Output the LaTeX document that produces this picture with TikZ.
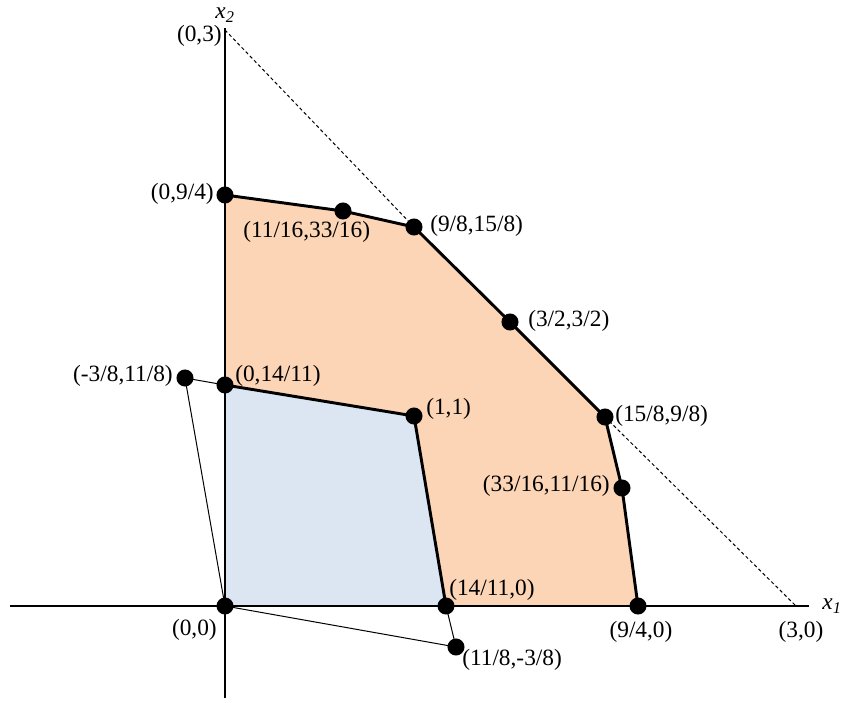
\documentclass[tikz,border=0pt]{standalone}
\usepackage{fontspec}
\setmainfont{Liberation Serif}
\usepackage{xcolor}
\usetikzlibrary{positioning}
\definecolor{feas}{HTML}{FBD5B5}
\definecolor{inner}{HTML}{DCE6F2}

\begin{document}
\begin{tikzpicture}[
  x=0.75pt, y=-0.75pt,
  font=\fontsize{17.5}{20}\selectfont,
  dot/.style={circle, fill=black, inner sep=0pt, minimum size=12.8pt},
  lab/.style={inner sep=0pt},
  ax/.style={line width=2.2pt},
  edge/.style={line width=2.2pt, line join=round},
  thin/.style={line width=0.75pt}
]
\useasboundingbox (0,0) rectangle (844,703);
% points of the picture (pixel grid)
\coordinate (o) at (225,606);
\coordinate (a) at (225,195);
\coordinate (b) at (343,211);
\coordinate (c) at (414,227);
\coordinate (d) at (510,322);
\coordinate (e) at (605,417);
\coordinate (f) at (622,488);
\coordinate (g) at (638,606);
\coordinate (h) at (446,606);
\coordinate (k) at (414,416);
\coordinate (m) at (225,385);
\coordinate (u) at (185,378);
\coordinate (v) at (456,647);
\coordinate (top) at (225,30);
\coordinate (rgt) at (796,606);
\coordinate (xl) at (10,606);
\coordinate (xr) at (809,606);
\coordinate (yt) at (225,28);
\coordinate (yb) at (225,698);

% bound x1+x2=3, only outside the region
\draw[thin, dash pattern=on 2.5pt off 2pt] (top) -- (c);
\draw[thin, dash pattern=on 2.5pt off 2pt] (e) -- (rgt);

% regions
\fill[feas] (a) -- (b) -- (c) -- (d) -- (e) -- (f) -- (g) -- (o) -- cycle;
\filldraw[fill=inner, draw=black!60, line width=0.5pt] (o) -- (h) -- (k) -- (m) -- cycle;

% thin lines
\draw[thin] (o) -- (u) -- (m);
\draw[thin] (o) -- (v) -- (h);

% axes
\draw[ax] (xl) -- (xr);
\draw[ax] (yb) -- (yt);

% boundaries
\draw[edge] (a) -- (b) -- (c) -- (d) -- (e) -- (f) -- (g);
\draw[edge] (h) -- (k) -- (m);

% dots
\foreach \p in {o,a,b,c,d,e,f,g,h,k,m,u,v}
  \node[dot] (n\p) at (\p) {};

% labels
\node[lab, anchor=east] (l03) at (222,36) {(0,3)};
\node[lab] (lx2) at (225,15) {\itshape x\textsubscript{2}};
\node[lab] (lx1) at (832,606) {\itshape x\textsubscript{1}};
\node[lab, anchor=east] (la) at (214,194) {(0,9/4)};
\node[lab, anchor=west] (lb) at (243,232) {(11/16,33/16)};
\node[lab, anchor=west] (lc) at (430,226) {(9/8,15/8)};
\node[lab, anchor=west] (ld) at (528,321) {(3/2,3/2)};
\node[lab, anchor=west] (le) at (615,416) {(15/8,9/8)};
\node[lab, anchor=east] (lf) at (610,486) {(33/16,11/16)};
\node[lab, anchor=west] (lm) at (235,376) {(0,14/11)};
\node[lab, anchor=east] (lu) at (173,376) {(-3/8,11/8)};
\node[lab, anchor=west] (lk) at (426,409) {(1,1)};
\node[lab, anchor=west] (lh) at (449,590) {(14/11,0)};
\node[lab, anchor=east] (lo) at (217,630) {(0,0)};
\node[lab, anchor=west] (lv) at (462,660) {(11/8,-3/8)};
\node[lab] (lg) at (641,632) {(9/4,0)};
\node[lab] (lr) at (801,632) {(3,0)};
\end{tikzpicture}
\end{document}
